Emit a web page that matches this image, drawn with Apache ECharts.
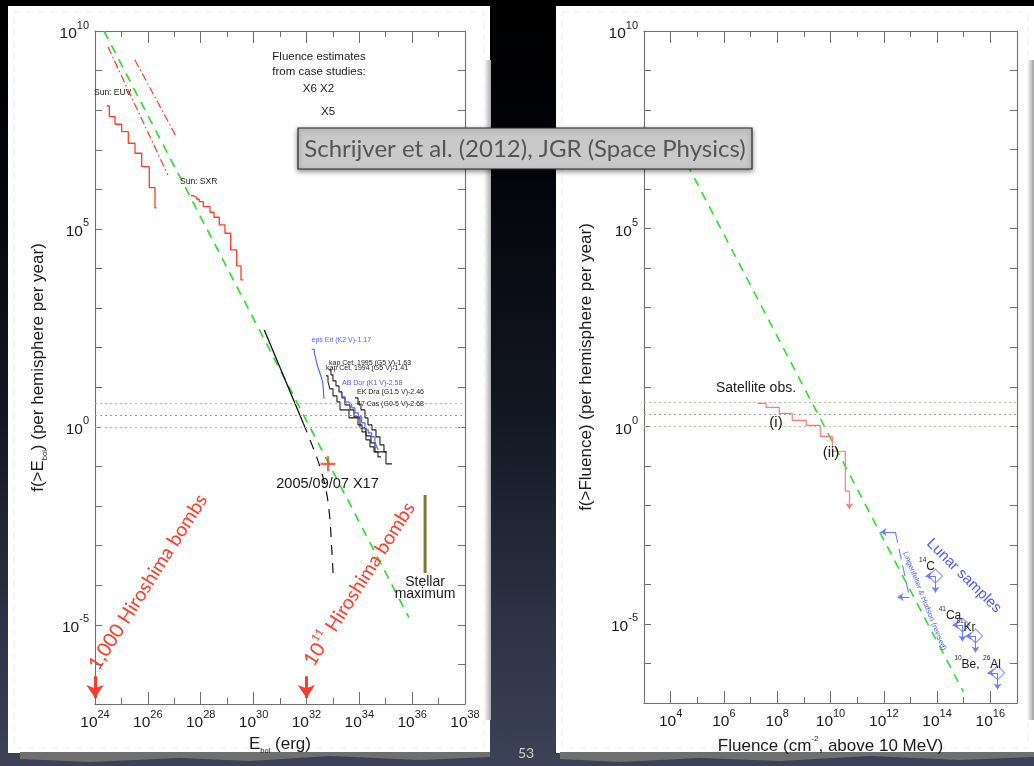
<!DOCTYPE html>
<html>
<head>
<meta charset="utf-8">
<title>Flare energy and proton fluence frequency distributions</title>
<script src="https://cdn.jsdelivr.net/npm/echarts@6/dist/echarts.min.js"></script>
<style>
  html, body { margin: 0; padding: 0; overflow: hidden;
    background: linear-gradient(180deg, #000 0%, #03040a 22%, #141824 55%, #2c3143 80%, #3c4257 100%); }
  #chart { width: 1034px; height: 766px; }
</style>
</head>
<body>
<div id="chart"></div>
<script>
// All plotted values are log10: x = log10 E_bol [erg] or log10 fluence [cm^-2],
// y = log10 f (events per hemisphere per year).

// ---------- Left panel: bolometric flare energies ----------
const sunLawLogE = [24.34, 35.88];
const sunLawLogF = [10.0, -4.82];
const euvFitALogE = [24.49, 26.76];
const euvFitALogF = [9.60, 6.36];
const euvFitBLogE = [25.51, 27.10];
const euvFitBLogF = [9.27, 7.30];
const sunEuvLogE = [24.443, 24.541, 24.757, 25.010, 25.260, 25.513, 25.767, 26.054, 26.270, 26.334];
const sunEuvLogF = [8.106, 7.836, 7.644, 7.457, 7.164, 6.912, 6.573, 6.043, 5.530, 5.530];
const sunSxrLogE = [27.621, 27.719, 27.848, 27.946, 28.098, 28.351, 28.502, 28.703, 28.918, 29.134, 29.361, 29.524, 29.611];
const sunSxrLogF = [5.841, 5.801, 5.750, 5.689, 5.563, 5.422, 5.295, 5.101, 4.891, 4.470, 4.066, 3.712, 3.712];
const x17FitLogE = [30.406, 31.881];
const x17FitLogF = [2.449, 0.093];
const x17TailLogE = [31.881, 32.210, 32.513, 32.740, 32.873, 32.948, 33.016];
const x17TailLogF = [0.093, -0.455, -1.010, -1.591, -2.222, -2.980, -3.788];
const x17EventLogE = 32.816;
const x17EventLogF = -0.934;
const epsEriLogE = [32.199, 32.297, 32.350, 32.388, 32.449, 32.513, 32.577, 32.615, 32.638, 32.664];
const epsEriLogF = [1.962, 1.861, 1.735, 1.609, 1.482, 1.356, 1.230, 1.104, 0.977, 0.707];
const kapCet95LogE = [32.853, 32.929, 33.005, 33.118, 33.232, 33.345, 33.459, 33.648, 33.799, 33.951, 34.102, 34.253, 34.405, 34.556, 34.707, 34.821];
const kapCet95LogF = [1.439, 1.313, 1.162, 1.035, 0.884, 0.732, 0.556, 0.429, 0.253, 0.051, -0.126, -0.328, -0.505, -0.631, -0.758, -0.758];
const kapCet94LogE = [32.740, 32.816, 32.891, 33.005, 33.156, 33.270, 33.497, 33.610, 33.875, 34.027, 34.253, 34.442, 34.594, 34.821, 35.010, 35.237];
const kapCet94LogF = [1.288, 1.136, 0.960, 0.783, 0.631, 0.429, 0.429, 0.227, 0.227, -0.025, -0.227, -0.404, -0.631, -0.631, -0.934, -0.934];
const abDorLogE = [33.308, 33.357, 33.459, 33.584, 33.713, 33.837, 33.962, 34.091, 34.216, 34.340, 34.469, 34.594, 34.658, 34.719];
const abDorLogF = [0.859, 0.758, 0.631, 0.581, 0.480, 0.354, 0.253, 0.101, -0.076, -0.152, -0.253, -0.379, -0.505, -0.581];
const ekDraLogE = [33.837, 33.951, 34.064, 34.216, 34.329, 34.480, 34.632, 34.783, 34.934, 35.048];
const ekDraLogF = [0.732, 0.581, 0.429, 0.227, 0.051, -0.076, -0.253, -0.455, -0.631, -0.631];
const stellarMaxLogE = 36.49;
const stellarMaxLogF = [-1.72, -3.69];
const bombLogE = [24, 32];          // 1,000 and 10^11 Hiroshima bombs
const bombArrowLogF = [-6.30, -6.85];

// Reference rates (4, 2 and 1 per year), shared by both panels
const refRateLogF = [0.602, 0.301, 0.0];

// ---------- Right panel: proton fluence above 10 MeV ----------
const fluenceLawLogFl = [4.33, 14.99];
const fluenceLawLogF = [7.0, -6.72];
const satelliteLogFl = [7.248, 7.586, 8.075, 8.564, 9.090, 9.617, 10.068, 10.556, 10.707];
const satelliteLogF = [0.581, 0.480, 0.328, 0.152, 0.025, -0.253, -0.631, -1.641, -1.641];
const satelliteLimitLogF = -2.096;
const lhBracketLogFl = [12.436, 12.962];
const lhBracketLogF = [-2.677, -4.318];
const lhArrowTipLogFl = [11.872, 12.511];
const lunarNames = ['14C', '41Ca', '81Kr', '10Be, 26Al'];
const lunarLogFl = [13.94, 14.955, 15.444, 16.271];
const lunarLogF = [-3.788, -5.025, -5.303, -6.237];
const lunarLimitDx = 0.38;
const lunarLimitDy = 0.42;

// Tick label exponents
const energyLabelExps = [24, 26, 28, 30, 32, 34, 36, 38];
const fluenceLabelExps = [4, 6, 8, 10, 12, 14, 16];
const fluenceMinorExps = [3, 5, 7, 9, 11, 13, 15, 17];
const freqLabelExps = [-5, 0, 5, 10];

// ---------- styling ----------
const FONT = '"Liberation Sans", Arial, Helvetica, sans-serif';
const GILL = 'Lato, "Open Sans", sans-serif';
const AXIS = '#6e6e6e';
const GREEN = '#2ee02e';
const RED = '#ff3a28';
const BLUE = '#4a5cff';
const LBLUE = '#6b7dff';
const SALMON = '#ff7a74';
const INK = '#1a1a1a';

const zip = (xs, ys) => xs.map((x, i) => [x, ys[i]]);

const tickRich = {
  b: { fontSize: 15.5, fontFamily: FONT, color: INK, lineHeight: 22, verticalAlign: 'bottom' },
  e: { fontSize: 11, fontFamily: FONT, color: INK, lineHeight: 11, verticalAlign: 'top' }
};
const powLabel = v => `{b|10}{e|${v}}`;
const nameRich = {
  n: { fontSize: 17, fontFamily: FONT, color: INK, lineHeight: 22, verticalAlign: 'middle' },
  s: { fontSize: 7.5, fontFamily: FONT, color: INK, lineHeight: 8, verticalAlign: 'bottom' },
  p: { fontSize: 8, fontFamily: FONT, color: INK, lineHeight: 8, verticalAlign: 'top' }
};

function line(name, data, color, width, type, xi, extra) {
  return Object.assign({
    name, type: 'line', data, xAxisIndex: xi, yAxisIndex: xi,
    showSymbol: false, symbol: 'none', silent: true, z: 3,
    lineStyle: { color, width, type: type || 'solid' }
  }, extra || {});
}
function arrowLines(segs, color, width, size) {
  return {
    silent: true, symbol: ['none', 'arrow'], symbolSize: size, animation: false,
    label: { show: false }, emphasis: { disabled: true },
    lineStyle: { color, width, type: 'solid' },
    data: segs.map(s => [{ coord: s[0] }, { coord: s[1] }])
  };
}
function refLines() {
  const cols = ['#bdbd95', '#9a9a9a', '#bdbd95'];
  return {
    silent: true, symbol: ['none', 'none'], label: { show: false }, emphasis: { disabled: true },
    data: refRateLogF.map((v, i) => ({ yAxis: v, lineStyle: { color: cols[i], width: 1, type: [2, 3] } }))
  };
}

const leftSeries = [
  line('ref', [], '#000', 1, 'solid', 0, { markLine: refLines() }),
  line('Sun power law', zip(sunLawLogE, sunLawLogF), GREEN, 1.7, [9, 7], 0),
  line('EUV fit A', zip(euvFitALogE, euvFitALogF), RED, 1.2, [8, 3, 1.5, 3], 0),
  line('EUV fit B', zip(euvFitBLogE, euvFitBLogF), RED, 1.2, [8, 3, 1.5, 3], 0),
  line('Sun: EUV', zip(sunEuvLogE, sunEuvLogF), RED, 1.3, 'solid', 0, { step: 'end' }),
  line('Sun: SXR', zip(sunSxrLogE, sunSxrLogF), RED, 1.3, 'solid', 0, { step: 'end' }),
  line('X17 fit', zip(x17FitLogE, x17FitLogF), '#111', 1.3, 'solid', 0),
  line('X17 tail', zip(x17TailLogE, x17TailLogF), '#111', 1.2, [10, 8], 0, { smooth: 0.4 }),
  line('eps Eri', zip(epsEriLogE, epsEriLogF), BLUE, 1.1, 'solid', 0, { step: 'end' }),
  line('kap Cet 1995', zip(kapCet95LogE, kapCet95LogF), '#222', 1.1, 'solid', 0, { step: 'end' }),
  line('kap Cet 1994', zip(kapCet94LogE, kapCet94LogF), '#222', 1.1, 'solid', 0, { step: 'end' }),
  line('EK Dra', zip(ekDraLogE, ekDraLogF), '#222', 1.1, 'solid', 0, { step: 'end' }),
  line('AB Dor', zip(abDorLogE, abDorLogF), BLUE, 1.1, 'solid', 0, { step: 'end' }),
  line('Stellar maximum', stellarMaxLogF.map(f => [stellarMaxLogE, f]), '#7d7a2e', 3, 'solid', 0),
  line('bombs', [], RED, 1, 'solid', 0, {
    markLine: arrowLines(bombLogE.map(e => [[e, bombArrowLogF[0]], [e, bombArrowLogF[1]]]), RED, 3, 13)
  }),
  {
    name: 'X17', type: 'scatter', xAxisIndex: 0, yAxisIndex: 0, silent: true, z: 5,
    data: [[x17EventLogE, x17EventLogF]],
    symbol: 'path://M4.3,0h1.4v4.3h4.3v1.4h-4.3v4.3h-1.4v-4.3h-4.3v-1.4h4.3z', symbolSize: 15,
    itemStyle: { color: RED }
  }
];

const rightSeries = [
  line('ref2', [], '#000', 1, 'solid', 2, { markLine: refLines() }),
  line('Fluence power law', zip(fluenceLawLogFl, fluenceLawLogF), GREEN, 1.6, [9, 7], 2),
  line('Satellite obs.', zip(satelliteLogFl, satelliteLogF), SALMON, 1.2, 'solid', 2, {
    step: 'end',
    markLine: arrowLines([[[satelliteLogFl[satelliteLogFl.length - 1], satelliteLogF[satelliteLogF.length - 1]],
                           [satelliteLogFl[satelliteLogFl.length - 1], satelliteLimitLogF]]], SALMON, 1.2, 6)
  }),
  line('Lingenfelter & Hudson', zip(lhBracketLogFl, lhBracketLogF), LBLUE, 1.1, [11, 6], 2, {
    markLine: arrowLines(lhBracketLogFl.map((x, i) => [[x, lhBracketLogF[i]], [lhArrowTipLogFl[i], lhBracketLogF[i]]]), LBLUE, 1.1, 6)
  }),
  line('limits', [], LBLUE, 1, 'solid', 2, {
    markLine: arrowLines(
      lunarLogFl.flatMap((x, i) => [
        [[x, lunarLogF[i]], [x - lunarLimitDx, lunarLogF[i]]],
        [[x, lunarLogF[i]], [x, lunarLogF[i] - lunarLimitDy]]
      ]), LBLUE, 1, 6)
  }),
  {
    name: 'Lunar samples', type: 'scatter', xAxisIndex: 2, yAxisIndex: 2, silent: true, z: 5,
    data: zip(lunarLogFl, lunarLogF), symbol: 'diamond', symbolSize: [14, 14],
    itemStyle: { color: 'rgba(255,255,255,0)', borderColor: LBLUE, borderWidth: 1.1 }
  }
];

const axisLineStyle = { show: true, onZero: false, lineStyle: { color: AXIS, width: 1.1 } };
const hiddenLine = { show: false, onZero: false };
const tickStyle = { color: AXIS, width: 1 };

const option = {
  animation: false,
  backgroundColor: 'transparent',
  grid: [
    { left: 95, top: 31, width: 370, height: 673 },
    { left: 644, top: 31, width: 373, height: 672 },
    { left: 644, top: 31, width: 373, height: 672 }
  ],
  xAxis: [
    { gridIndex: 0, type: 'value', min: 24, max: 38, interval: 2, position: 'bottom',
      axisLine: axisLineStyle, splitLine: { show: false },
      axisTick: { show: true, inside: true, length: 12, lineStyle: tickStyle },
      minorTick: { show: true, splitNumber: 2, length: 6, lineStyle: tickStyle },
      axisLabel: { margin: 5, formatter: v => energyLabelExps.includes(v) ? powLabel(v) : '', rich: tickRich },
      name: '{n|E}{s|bol}{n| (erg)}', nameLocation: 'middle', nameGap: 21,
      nameTextStyle: { rich: nameRich } },
    { gridIndex: 0, type: 'value', min: 24, max: 38, interval: 2, position: 'top',
      axisLine: axisLineStyle, splitLine: { show: false }, axisLabel: { show: false },
      axisTick: { show: true, inside: true, length: 12, lineStyle: tickStyle },
      minorTick: { show: true, splitNumber: 2, length: 6, lineStyle: tickStyle } },
    { gridIndex: 1, type: 'value', min: 3, max: 17, interval: 1, position: 'bottom',
      axisLine: axisLineStyle, splitLine: { show: false },
      axisTick: { show: true, inside: true, length: 12, lineStyle: tickStyle, customValues: fluenceLabelExps },
      axisLabel: { margin: 5, customValues: fluenceLabelExps, formatter: v => powLabel(v), rich: tickRich },
      name: '{n|Fluence (cm}{p|-2}{n|, above 10 MeV)}', nameLocation: 'middle', nameGap: 21,
      nameTextStyle: { rich: nameRich } },
    { gridIndex: 1, type: 'value', min: 3, max: 17, interval: 1, position: 'top',
      axisLine: axisLineStyle, splitLine: { show: false }, axisLabel: { show: false },
      axisTick: { show: true, inside: true, length: 12, lineStyle: tickStyle, customValues: fluenceLabelExps } },
    { gridIndex: 2, type: 'value', min: 3, max: 17, interval: 1, position: 'bottom',
      axisLine: hiddenLine, splitLine: { show: false }, axisLabel: { show: false },
      axisTick: { show: true, inside: true, length: 6, lineStyle: tickStyle, customValues: fluenceMinorExps } },
    { gridIndex: 2, type: 'value', min: 3, max: 17, interval: 1, position: 'top',
      axisLine: hiddenLine, splitLine: { show: false }, axisLabel: { show: false },
      axisTick: { show: true, inside: true, length: 6, lineStyle: tickStyle, customValues: fluenceMinorExps } }
  ],
  yAxis: [
    { gridIndex: 0, type: 'value', min: -7, max: 10, interval: 1, position: 'left',
      axisLine: axisLineStyle, splitLine: { show: false },
      axisTick: { show: true, inside: true, length: 7, lineStyle: tickStyle },
      axisLabel: { margin: 6, formatter: v => freqLabelExps.includes(v) ? powLabel(v) : '', rich: tickRich },
      name: '{n|f(>E}{s|bol}{n|) (per hemisphere per year)}', nameLocation: 'middle', nameGap: 46,
      nameTextStyle: { rich: nameRich } },
    { gridIndex: 0, type: 'value', min: -7, max: 10, interval: 1, position: 'right',
      axisLine: axisLineStyle, splitLine: { show: false }, axisLabel: { show: false },
      axisTick: { show: true, inside: true, length: 7, lineStyle: tickStyle } },
    { gridIndex: 1, type: 'value', min: -7, max: 10, interval: 1, position: 'left',
      axisLine: axisLineStyle, splitLine: { show: false },
      axisTick: { show: true, inside: true, length: 7, lineStyle: tickStyle },
      axisLabel: { margin: 6, formatter: v => freqLabelExps.includes(v) ? powLabel(v) : '', rich: tickRich },
      name: '{n|f(>Fluence) (per hemisphere per year)}', nameLocation: 'middle', nameGap: 47,
      nameTextStyle: { rich: nameRich } },
    { gridIndex: 1, type: 'value', min: -7, max: 10, interval: 1, position: 'right',
      axisLine: axisLineStyle, splitLine: { show: false }, axisLabel: { show: false },
      axisTick: { show: true, inside: true, length: 7, lineStyle: tickStyle } },
    { gridIndex: 2, type: 'value', min: -7, max: 10, show: false, axisLine: hiddenLine }
  ],
  series: leftSeries.concat(rightSeries)
};

// ---------- annotations and slide decoration ----------
function txt(x, y, text, size, color, o) {
  o = o || {};
  const align = o.align || 'center';
  const style = {
    text, fill: color, font: `${size}px ${o.family || FONT}`,
    align, verticalAlign: 'middle', textAlign: align, textVerticalAlign: 'middle'
  };
  if (o.rich) style.rich = o.rich;
  return { type: 'text', x, y, rotation: o.rot || 0, z: o.z || 60, silent: true, style };
}
const supRich = (base, sup, color, family) => ({
  t: { fontSize: base, fontFamily: family, fill: color, color, lineHeight: base + 4, verticalAlign: 'bottom' },
  s: { fontSize: sup, fontFamily: family, fill: color, color, lineHeight: sup, verticalAlign: 'top' }
});
const isoRich = supRich(12, 6.5, INK, FONT);
const bombRich = supRich(19.5, 11, RED, GILL);

const graphic = [
  // paper panels
  { type: 'rect', z: -10, silent: true, shape: { x: 8, y: 6, width: 482, height: 747 }, style: { fill: '#fff' } },
  { type: 'rect', z: -10, silent: true, shape: { x: 556, y: 6, width: 480, height: 747 }, style: { fill: '#fff' } },
  { type: 'rect', z: -9, silent: true, shape: { x: 14, y: 12, width: 470, height: 736 },
    style: { fill: 'none', stroke: '#ececec', lineWidth: 1, lineDash: [7, 5] } },
  { type: 'rect', z: -9, silent: true, shape: { x: 562, y: 12, width: 466, height: 736 },
    style: { fill: 'none', stroke: '#ececec', lineWidth: 1, lineDash: [7, 5] } },
  { type: 'rect', z: -9, silent: true, shape: { x: 484, y: 60, width: 7, height: 660 },
    style: { fill: { type: 'linear', x: 0, y: 0, x2: 1, y2: 0, colorStops: [{ offset: 0, color: '#ffffff' }, { offset: 1, color: '#a9a9a9' }] } } },
  { type: 'rect', z: -9, silent: true, shape: { x: 1027, y: 60, width: 7, height: 660 },
    style: { fill: { type: 'linear', x: 0, y: 0, x2: 1, y2: 0, colorStops: [{ offset: 0, color: '#ffffff' }, { offset: 1, color: '#a0a0a0' }] } } },
  { type: 'polygon', z: -9, silent: true,
    shape: { points: [[20, 752], [490, 752], [490, 757], [420, 760], [330, 756], [250, 761], [180, 758], [90, 762], [20, 759]] },
    style: { fill: '#6f6f6f' } },
  { type: 'polygon', z: -9, silent: true,
    shape: { points: [[560, 752], [1034, 752], [1034, 757], [960, 760], [870, 756], [780, 761], [700, 758], [620, 762], [560, 759]] },
    style: { fill: '#6f6f6f' } },

  // left panel labels
  txt(94, 93, 'Sun: EUV', 8.5, '#222', { align: 'left' }),
  txt(180, 182, 'Sun: SXR', 8.5, '#222', { align: 'left' }),
  txt(319, 57, 'Fluence estimates', 11.5, INK),
  txt(319, 72, 'from case studies:', 11.5, INK),
  txt(318.5, 89, 'X6 X2', 11.5, INK),
  txt(328, 112, 'X5', 11.5, INK),
  txt(311.5, 340, 'eps Eri (K2 V)-1.17', 7, BLUE, { align: 'left' }),
  txt(329, 363, 'kap Cet, 1995 (G5 V)-1.63', 7, '#222', { align: 'left' }),
  txt(326, 368, 'kap Cet, 1994 (G5 V)-1.41', 7, '#222', { align: 'left' }),
  txt(342, 383, 'AB Dor (K1 V)-2.58', 7, BLUE, { align: 'left' }),
  txt(357, 392, 'EK Dra (G1.5 V)-2.46', 7, '#222', { align: 'left' }),
  txt(357, 404, '47 Cas (G0-5 V)-2.68', 7, '#222', { align: 'left' }),
  txt(327.5, 484, '2005/09/07 X17', 14.5, INK),
  txt(425, 582, 'Stellar', 14, INK),
  txt(425, 594, 'maximum', 14, INK),
  txt(148, 582, '1,000 Hiroshima bombs', 19.5, RED, { family: GILL, rot: 1.004 }),
  txt(358, 583, '{t|10}{s|11}{t| Hiroshima bombs}', 19.5, RED, { family: GILL, rot: 1.004, rich: bombRich }),

  // right panel labels
  txt(756, 388, 'Satellite obs.', 14, INK),
  txt(776, 423, '(i)', 15, INK),
  txt(831, 453, '(ii)', 15, INK),
  txt(964, 576, 'Lunar samples', 15, '#4a5cf0', { rot: -0.78 }),
  txt(924.5, 601, 'Lingenfelter & Hudson (revised)', 7.5, '#4a5cf0', { rot: -1.19 }),
  txt(927, 565, '{s|14}{t|C}', 12, INK, { rich: isoRich }),
  txt(950, 614, '{s|41}{t|Ca}', 12, INK, { rich: isoRich }),
  txt(966, 626, '{s|81}{t|Kr}', 12, INK, { rich: isoRich }),
  txt(967, 663, '{s|10}{t|Be,}', 12, INK, { rich: isoRich }),
  txt(992, 663, '{s|26}{t|Al}', 12, INK, { rich: isoRich }),

  // citation box and slide number
  { type: 'rect', z: 100, silent: true, shape: { x: 298, y: 128, width: 454, height: 41 },
    style: { fill: '#c9c9c9', stroke: '#262626', lineWidth: 1.2, shadowBlur: 5, shadowColor: 'rgba(0,0,0,0.45)', shadowOffsetY: 2 } },
  txt(525, 149, 'Schrijver et al. (2012), JGR (Space Physics)', 24, '#555', { family: GILL, z: 101 }),
  txt(526, 753, '53', 14, '#cfcfcf', { family: GILL, z: 101 })
];
option.graphic = { elements: graphic };

const chart = echarts.init(document.getElementById('chart'), null, { renderer: 'canvas' });
chart.setOption(option);
</script>
</body>
</html>
